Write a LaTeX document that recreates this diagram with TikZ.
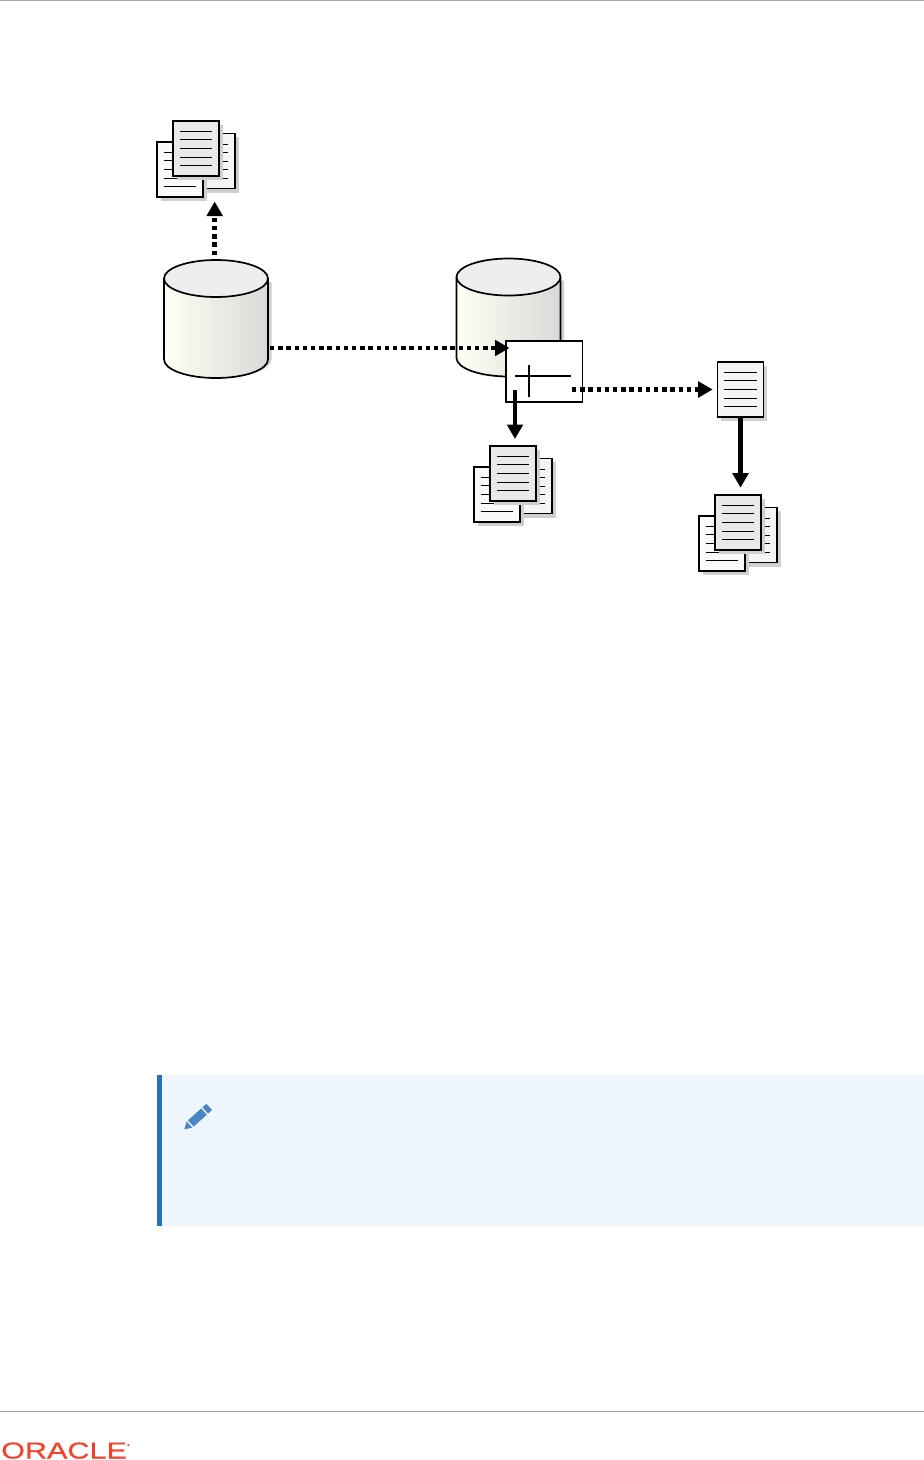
\documentclass[tikz,border=0pt]{standalone}
\usepackage{fontspec}
\setmainfont{Liberation Sans}
\newfontfamily\logofont[FakeBold=0.4]{Liberation Sans}
\usetikzlibrary{arrows.meta}
\definecolor{shadowc}{HTML}{CFCFCF}
\definecolor{frontc}{HTML}{E9E9E9}
\definecolor{midc}{HTML}{F4F4F4}
\definecolor{backc}{HTML}{FAFAFA}
\definecolor{topc}{HTML}{EEEEEE}
\definecolor{creamc}{HTML}{FFFFF4}
\definecolor{sidec}{HTML}{D9D9D9}
\definecolor{panelc}{HTML}{EFF5FC}
\definecolor{barc}{HTML}{2A70B8}
\definecolor{penc}{HTML}{4A86C5}
\definecolor{orc}{HTML}{F5402C}
\definecolor{rulec}{HTML}{A6A6A6}
\tikzset{
  x=1pt,y=-1pt,
  docbox/.style={draw=black,line width=1.7pt,minimum width=46pt,minimum height=55pt,inner sep=0pt,outer sep=0pt,anchor=north west},
  docline/.style={draw=black,line width=0.9pt},
  bodyln/.style={draw=black,line width=1.7pt},
  solidarrow/.style={draw=black,line width=4.5pt,-{Triangle[length=14.5pt,width=15.5pt]}},
  dotarrow/.style={draw=black,line width=4.5pt,dash pattern=on 4.4pt off 3.8pt,-{Triangle[length=14.5pt,width=15.5pt]}},
  cylframe/.style={minimum width=104pt,minimum height=118pt,inner sep=0pt,outer sep=0pt,anchor=north west},
  boxnode/.style={draw=black,fill=white,line width=1.7pt,minimum width=76.5pt,minimum height=61pt,inner sep=0pt,outer sep=0pt,anchor=north west},
}
% #1 name, #2 x, #3 y, #4 fill
\newcommand{\paperdoc}[4]{%
  \fill[shadowc] (#2+3.5,#3+3.5) rectangle (#2+49.5,#3+59);
  \node[docbox,fill=#4] (#1) at (#2,#3) {};
  \foreach \ly in {10.5,18.5,27.5,36,44.5}
    \draw[docline] (#2+6.5,#3+\ly) -- (#2+39,#3+\ly);
}
% #1 name, #2 x, #3 y of the front page
\newcommand{\paperstack}[3]{%
  \paperdoc{#1r}{#2+16.2}{#3+12.5}{midc}
  \paperdoc{#1l}{#2-16}{#3+21}{backc}
  \paperdoc{#1}{#2}{#3}{frontc}
}
% #1 name, #2 left x, #3 top y
\newcommand{\dbcyl}[3]{%
  \fill[shadowc] (#2+3.5,#3+22) -- (#2+107.5,#3+22) -- (#2+107.5,#3+99) arc[start angle=0,end angle=180,x radius=52,y radius=19] -- cycle;
  \shade[left color=creamc,middle color=creamc!50!sidec,right color=sidec]
    (#2,#3+18.5) -- (#2,#3+99.5) arc[start angle=180,end angle=0,x radius=52,y radius=18.5] -- (#2+104,#3+18.5) -- cycle;
  \draw[bodyln] (#2,#3+18.5) -- (#2,#3+99.5) arc[start angle=180,end angle=0,x radius=52,y radius=18.5] -- (#2+104,#3+18.5);
  \draw[bodyln,fill=topc] (#2+52,#3+18.5) ellipse[x radius=52,y radius=18.5];
  \node[cylframe] (#1) at (#2,#3) {};
}
\begin{document}
\begin{tikzpicture}
\useasboundingbox (0,0) rectangle (924,1460);
\fill[white] (0,0) rectangle (924,1460);
\draw[rulec,line width=1pt] (0,0.5) -- (924,0.5);

\paperstack{stacka}{173}{121}
\dbcyl{dba}{164}{260}
\dbcyl{dbb}{456.5}{258.5}
\node[boxnode] (box) at (506,341) {};
\draw[black,line width=1.7pt] (515,375.7) -- (571,375.7);
\draw[black,line width=1.7pt] (529,365) -- (529,396.7);
\paperstack{stackb}{490}{446}
\paperdoc{single}{717.5}{362}{midc}
\paperstack{stackc}{715}{495}

\draw[dotarrow] ([xshift=-1.3pt,yshift=5pt]dba.north) -- ([xshift=18.7pt,yshift=-25.5pt]stacka.south);
\draw[dotarrow] ([xshift=2pt,yshift=-29pt]dba.east) -- ([xshift=3.5pt,yshift=23.5pt]box.west);
\draw[dotarrow] ([xshift=-10.5pt,yshift=-18pt]box.east) -- ([xshift=-4.8pt]single.west);
\draw[solidarrow] ([xshift=9pt,yshift=12pt]box.south west) -- ([xshift=25pt,yshift=7pt]stackb.north west);
\draw[solidarrow] (single.south) -- ([xshift=25.5pt,yshift=7.3pt]stackc.north west);

% note panel
\fill[panelc] (157,1075) rectangle (924,1226);
\fill[barc] (157,1075) rectangle (162,1226);
\begin{scope}[shift={(184.3,1129.3)},rotate=42]
  \fill[penc] (0,0) -- (7,-4.2) -- (7,4.2) -- cycle;
  \fill[penc] (8.8,-4.2) rectangle (26.5,4.2);
  \fill[penc] (28.2,-4.2) rectangle (33.5,4.2);
\end{scope}

% footer
\draw[rulec,line width=1pt] (0,1411.5) -- (924,1411.5);
\node[anchor=base west,inner sep=0pt,text=orc,font=\logofont\fontsize{23}{24}\selectfont] (logo) at (1,1458.5) {\scalebox{1.33}[1]{ORACLE}};
\fill[orc] (128.3,1445) circle[radius=1.2];
\end{tikzpicture}
\end{document}
